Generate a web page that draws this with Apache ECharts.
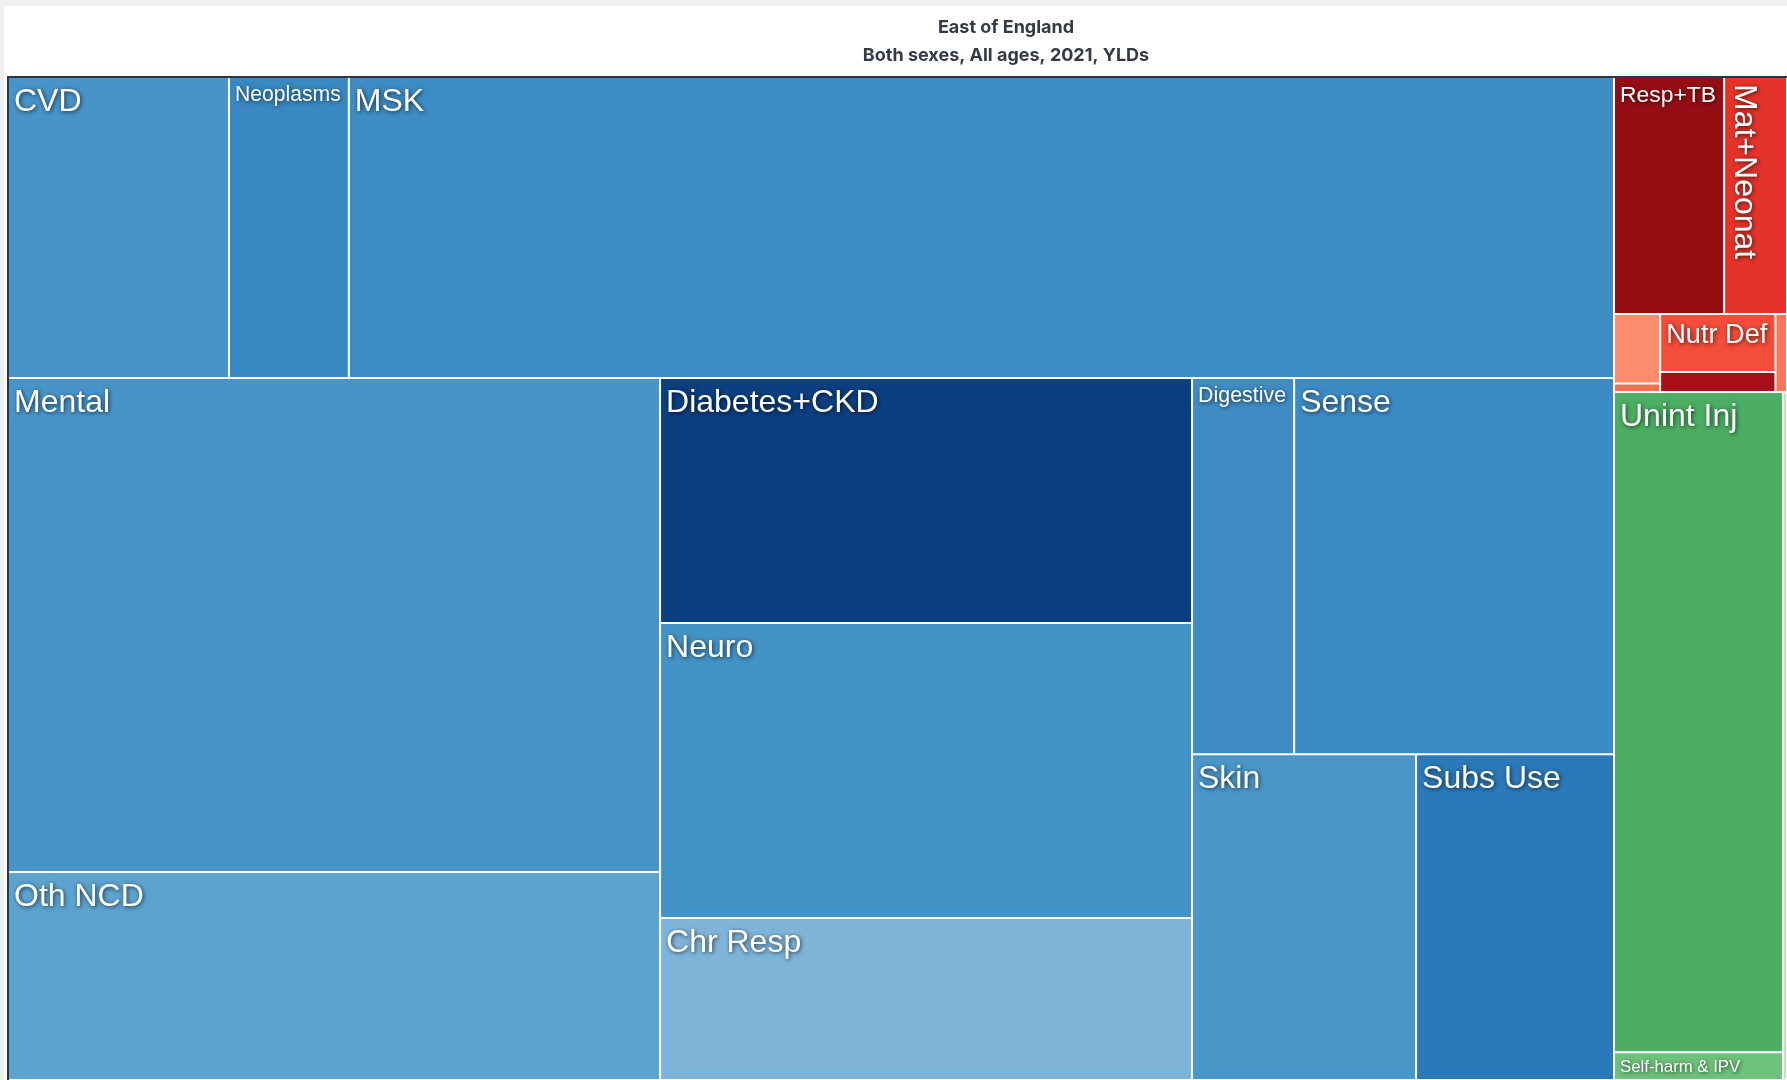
<!DOCTYPE html>
<html>
<head>
<meta charset="utf-8">
<title>East of England, YLDs</title>
<script src="https://cdn.jsdelivr.net/npm/echarts@6/dist/echarts.min.js"></script>
<style>
html, body { margin: 0; padding: 0; background: #efefef; overflow: hidden; }
#chart { position: absolute; left: 4px; top: 6px; width: 1783px; height: 1074px; background: #fff; }
</style>
</head>
<body>
<div id="chart"></div>
<script>
var titleLines = ['East of England', 'Both sexes, All ages, 2021, YLDs'];

// cause boxes, '' = box too small for a label
var causes = ['CVD', 'Neoplasms', 'MSK', 'Mental', 'Oth NCD', 'Diabetes+CKD', 'Neuro', 'Chr Resp',
    'Digestive', 'Sense', 'Skin', 'Subs Use', 'Resp+TB', 'Mat+Neonat', '', '', 'Nutr Def', '', '',
    'Unint Inj', 'Self-harm & IPV', ''];
// YLDs, relative (thousands)
var ylds = [66.5, 36.1, 380.8, 322.1, 135.6, 130.3, 156.9, 86.2,
    38.4, 120.3, 73.0, 64.5, 26.1, 14.9, 3.2, 0.4, 6.7, 2.3, 0.9,
    111.5, 4.7, 2.8];
var colors = ['#4893c7', '#3a88c0', '#3d8cc4', '#4894c8', '#5ca3d0', '#0a3f80', '#4493c6', '#7fb4d9',
    '#3f8cc4', '#3d8bc4', '#4a96c8', '#2b79b8', '#960d14', '#e5332a', '#fc8d6c', '#fa6f4f', '#f44d39', '#a80f18', '#f9785a',
    '#4bae62', '#6fc27b', '#c3e6bf'];

// nesting of the boxes: 'h' = side by side, 'v' = stacked
var tree = ['h',
    ['v', ['h', 0, 1, 2], ['h', ['v', 3, 4], ['v', 5, 6, 7], ['v', ['h', 8, 9], ['h', 10, 11]]]],
    ['v', ['v', ['h', 12, 13], ['h', ['v', 14, 15], ['v', 16, 17], 18]], ['h', ['v', 19, 20], 21]]
];

function total(node) {
    if (typeof node === 'number') return ylds[node];
    var s = 0;
    for (var i = 1; i < node.length; i++) s += total(node[i]);
    return s;
}

var boxes = [];
function split(node, x0, y0, x1, y1) {
    if (typeof node === 'number') {
        boxes[node] = [x0, y0, x1, y1];
        return;
    }
    var sum = total(node);
    var pos = node[0] === 'h' ? x0 : y0;
    for (var i = 1; i < node.length; i++) {
        var f = total(node[i]) / sum;
        if (node[0] === 'h') {
            var w = (x1 - x0) * f;
            split(node[i], pos, y0, pos + w, y1);
            pos += w;
        } else {
            var h = (y1 - y0) * f;
            split(node[i], x0, pos, x1, pos + h);
            pos += h;
        }
    }
}
split(tree, 0, 0, 1, 1);

var data = causes.map(function (c, i) {
    return { name: c, value: boxes[i].concat(ylds[i]) };
});

var labelFont = '"Liberation Sans", Arial, sans-serif';
var ctx = document.createElement('canvas').getContext('2d');
ctx.font = '32px ' + labelFont;

function renderItem(params, api) {
    var p0 = api.coord([api.value(0), api.value(1)]);
    var p1 = api.coord([api.value(2), api.value(3)]);
    var x = p0[0] + 1, y = p0[1] + 1;
    var w = p1[0] - p0[0] - 2, h = p1[1] - p0[1] - 2;
    var children = [{
        type: 'rect',
        shape: { x: x, y: y, width: w, height: h },
        style: { fill: colors[params.dataIndex] }
    }];
    var name = causes[params.dataIndex];
    if (name) {
        var tw = ctx.measureText(name).width / 32;
        var size = Math.min(32, (w - 12) / tw, (h - 4) / 1.3);
        var rot = 0, tx = x + 5, ty = y + 2 + size * 0.2, va = 'top';
        if (size < 16 && h > w) {
            size = Math.min(32, (h - 12) / tw, (w - 4) / 1.3);
            rot = -Math.PI / 2;
            tx = x + 3;
            ty = y + 6;
            va = 'bottom';
        }
        children.push({
            type: 'text',
            x: tx,
            y: ty,
            rotation: rot,
            style: {
                text: name,
                fill: '#fff',
                fontSize: size,
                fontFamily: labelFont,
                align: 'left',
                verticalAlign: va,
                textShadowColor: 'rgba(0,0,0,0.7)',
                textShadowBlur: 4,
                textShadowOffsetX: 1,
                textShadowOffsetY: 1
            }
        });
    }
    return { type: 'group', children: children };
}

var myChart = echarts.init(document.getElementById('chart'));
var option = {
    backgroundColor: '#fff',
    animation: false,
    title: [{
        text: titleLines[0],
        left: 997,
        top: 8,
        textAlign: 'center',
        textStyle: { fontSize: 18, fontWeight: 'bold', color: '#333a44', fontFamily: 'Inter' }
    }, {
        text: titleLines[1],
        left: 997,
        top: 36,
        textAlign: 'center',
        textStyle: { fontSize: 18, fontWeight: 'bold', color: '#333a44', fontFamily: 'Inter' }
    }],
    grid: { left: 4, top: 71, right: 0, bottom: 0 },
    xAxis: {
        type: 'value', min: 0, max: 1, position: 'top',
        axisLine: { show: true, onZero: false, lineStyle: { color: '#2c3640', width: 2 } },
        axisTick: { show: false }, axisLabel: { show: false }, splitLine: { show: false }
    },
    yAxis: {
        type: 'value', min: 0, max: 1, inverse: true,
        axisLine: { show: true, onZero: false, lineStyle: { color: '#2c3640', width: 2 } },
        axisTick: { show: false }, axisLabel: { show: false }, splitLine: { show: false }
    },
    series: [{
        name: 'YLDs',
        type: 'custom',
        renderItem: renderItem,
        clip: false,
        encode: { x: [0, 2], y: [1, 3] },
        data: data
    }]
};
myChart.setOption(option);
</script>
</body>
</html>
